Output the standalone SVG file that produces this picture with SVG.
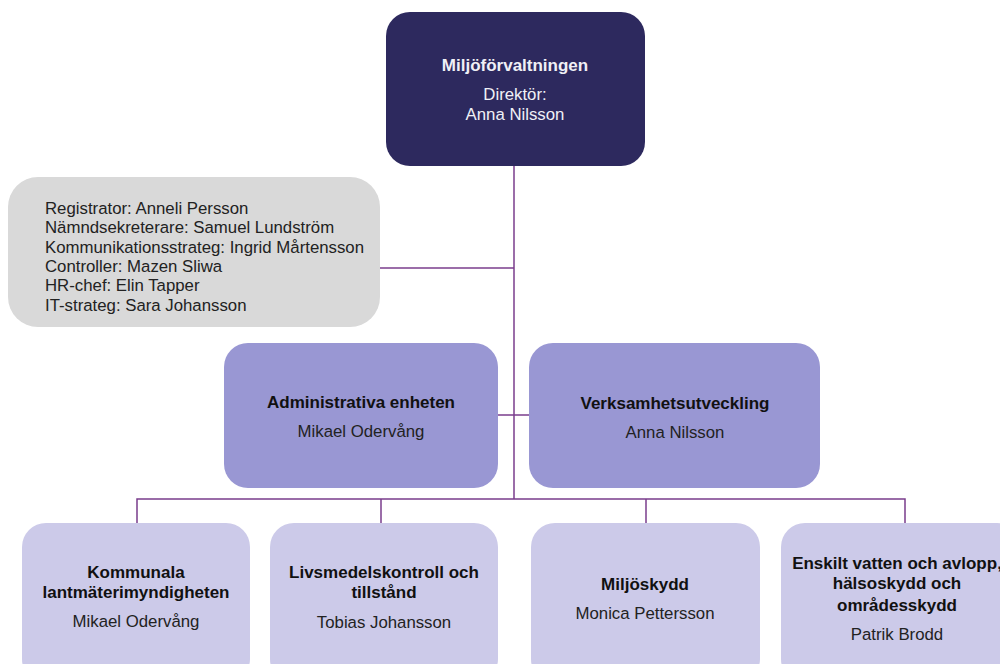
<svg xmlns="http://www.w3.org/2000/svg" width="1000" height="664" viewBox="0 0 1000 664">
<style>
text{font-family:"Liberation Sans",Arial,sans-serif;font-size:16.8px;fill:#222;}
.c{text-anchor:middle;}
.b{font-weight:bold;fill:#111;font-size:17px;}
.w{fill:#f0f0f6;}
.line{stroke:#7a3d8c;stroke-width:1.5;fill:none;}
</style>
<rect width="1000" height="664" fill="#ffffff"/>
<g id="connectors">
<path class="line" d="M514,166 V499"/>
<path class="line" d="M380,268 H514"/>
<path class="line" d="M498,415 H529"/>
<path class="line" d="M137,523 V499 H905 V523"/>
<path class="line" d="M381,499 V523"/>
<path class="line" d="M646,499 V523"/>
</g>
<g id="n-top">
<rect x="386" y="12" width="259" height="154" rx="24" fill="#2d295e"/>
<text class="c b w" x="515" y="71" style="fill:#f0f0f6">Miljöförvaltningen</text>
<text class="c w" x="515" y="100">Direktör:</text>
<text class="c w" x="515" y="120">Anna Nilsson</text>
</g>
<g id="n-staff">
<rect x="8" y="177" width="372" height="150" rx="30" fill="#d9d9d9"/>
<text x="45" y="214">Registrator: Anneli Persson</text>
<text x="45" y="233">Nämndsekreterare:  Samuel Lundström</text>
<text x="45" y="253">Kommunikationsstrateg: Ingrid Mårtensson</text>
<text x="45" y="272">Controller: Mazen Sliwa</text>
<text x="45" y="291">HR-chef: Elin Tapper</text>
<text x="45" y="311">IT-strateg: Sara Johansson</text>
</g>
<g id="n-admin">
<rect x="224" y="343" width="274" height="145" rx="24" fill="#9997d3"/>
<text class="c b" x="361" y="408">Administrativa enheten</text>
<text class="c" x="361" y="437">Mikael Odervång</text>
</g>
<g id="n-verk">
<rect x="529" y="343" width="291" height="145" rx="24" fill="#9997d3"/>
<text class="c b" x="675" y="409">Verksamhetsutveckling</text>
<text class="c" x="675" y="438">Anna Nilsson</text>
</g>
<g id="n-lant">
<rect x="22" y="523" width="228" height="160" rx="24" fill="#cccae9"/>
<text class="c b" x="136" y="578">Kommunala</text>
<text class="c b" x="136" y="598">lantmäterimyndigheten</text>
<text class="c" x="136" y="627">Mikael Odervång</text>
</g>
<g id="n-livs">
<rect x="270" y="523" width="228" height="160" rx="24" fill="#cccae9"/>
<text class="c b" x="384" y="578">Livsmedelskontroll och</text>
<text class="c b" x="384" y="598">tillstånd</text>
<text class="c" x="384" y="628">Tobias Johansson</text>
</g>
<g id="n-milj">
<rect x="531" y="523" width="229" height="160" rx="24" fill="#cccae9"/>
<text class="c b" x="645" y="590">Miljöskydd</text>
<text class="c" x="645" y="619">Monica Pettersson</text>
</g>
<g id="n-ensk">
<rect x="781" y="523" width="240" height="160" rx="24" fill="#cccae9"/>
<text class="c b" x="897" y="569">Enskilt vatten och avlopp,</text>
<text class="c b" x="897" y="589">hälsoskydd och</text>
<text class="c b" x="897" y="611">områdesskydd</text>
<text class="c" x="897" y="640">Patrik Brodd</text>
</g>
</svg>
